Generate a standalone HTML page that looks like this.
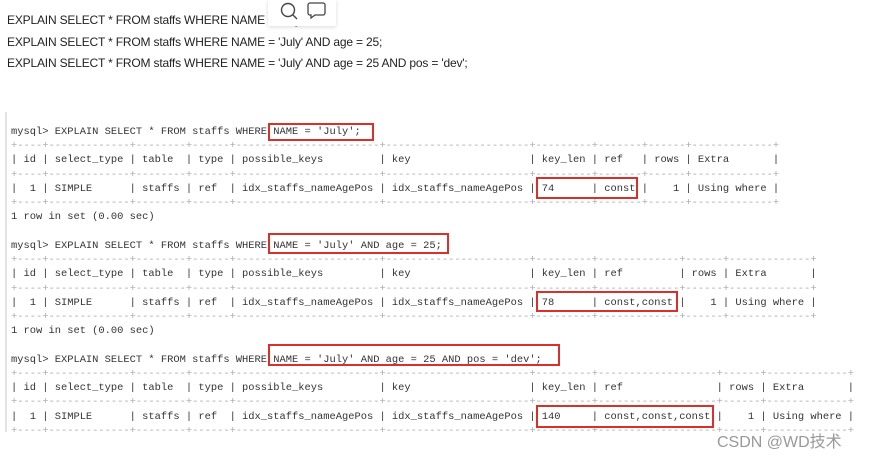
<!DOCTYPE html>
<html><head><meta charset="utf-8"><style>
html,body{margin:0;padding:0;width:872px;height:458px;background:#fff;overflow:hidden;position:relative}
.top{position:absolute;left:7px;font:12px "Liberation Sans",Arial,sans-serif;color:#222;letter-spacing:-0.18px;white-space:pre}
pre{position:absolute;left:11px;top:125px;margin:0;font:10.42px/14.24px "Liberation Mono",monospace;color:#333;letter-spacing:0}
.b{color:#aaa}
.r{position:absolute;border:2px solid #d8302a;box-sizing:border-box}
.bar{position:absolute;left:5px;top:112px;width:2px;height:320px;background:#e3e3e3}
.pop{position:absolute;left:268px;top:0;width:68px;height:26px;background:#fff;box-shadow:0 1px 4px rgba(0,0,0,.15)}
.wm{position:absolute;left:717px;top:428px;font:16px "Liberation Sans","Noto Sans CJK SC",sans-serif;color:#999}
</style></head><body>
<div class="top" style="top:13px">EXPLAIN SELECT * FROM staffs WHERE NAME = 'July';</div>
<div class="top" style="top:35px">EXPLAIN SELECT * FROM staffs WHERE NAME = 'July' AND age = 25;</div>
<div class="top" style="top:56px">EXPLAIN SELECT * FROM staffs WHERE NAME = 'July' AND age = 25 AND pos = 'dev';</div>
<div class="pop">
<svg width="68" height="26"><circle cx="20" cy="10" r="6.5" fill="none" stroke="#444" stroke-width="1.4"/><line x1="25" y1="15" x2="29" y2="19" stroke="#444" stroke-width="1.4"/><path d="M42 3h13a2 2 0 0 1 2 2v8a2 2 0 0 1-2 2h-8l-4 3v-3h-1a2 2 0 0 1-2-2v-8a2 2 0 0 1 2-2z" fill="none" stroke="#444" stroke-width="1.3"/></svg>
</div>
<div class="bar"></div>
<pre>mysql&gt; EXPLAIN SELECT * FROM staffs WHERE NAME = 'July';
<span class="b">+----+-------------+--------+------+-----------------------+-----------------------+---------+-------+------+-------------+</span>
| id | select_type | table  | type | possible_keys         | key                   | key_len | ref   | rows | Extra       |
<span class="b">+----+-------------+--------+------+-----------------------+-----------------------+---------+-------+------+-------------+</span>
|  1 | SIMPLE      | staffs | ref  | idx_staffs_nameAgePos | idx_staffs_nameAgePos | 74      | const |    1 | Using where |
<span class="b">+----+-------------+--------+------+-----------------------+-----------------------+---------+-------+------+-------------+</span>
1 row in set (0.00 sec)

mysql&gt; EXPLAIN SELECT * FROM staffs WHERE NAME = 'July' AND age = 25;
<span class="b">+----+-------------+--------+------+-----------------------+-----------------------+---------+-------------+------+-------------+</span>
| id | select_type | table  | type | possible_keys         | key                   | key_len | ref         | rows | Extra       |
<span class="b">+----+-------------+--------+------+-----------------------+-----------------------+---------+-------------+------+-------------+</span>
|  1 | SIMPLE      | staffs | ref  | idx_staffs_nameAgePos | idx_staffs_nameAgePos | 78      | const,const |    1 | Using where |
<span class="b">+----+-------------+--------+------+-----------------------+-----------------------+---------+-------------+------+-------------+</span>
1 row in set (0.00 sec)

mysql&gt; EXPLAIN SELECT * FROM staffs WHERE NAME = 'July' AND age = 25 AND pos = 'dev';
<span class="b">+----+-------------+--------+------+-----------------------+-----------------------+---------+-------------------+------+-------------+</span>
| id | select_type | table  | type | possible_keys         | key                   | key_len | ref               | rows | Extra       |
<span class="b">+----+-------------+--------+------+-----------------------+-----------------------+---------+-------------------+------+-------------+</span>
|  1 | SIMPLE      | staffs | ref  | idx_staffs_nameAgePos | idx_staffs_nameAgePos | 140     | const,const,const |    1 | Using where |
<span class="b">+----+-------------+--------+------+-----------------------+-----------------------+---------+-------------------+------+-------------+</span></pre>
<div class="r" style="left:268px;top:123px;width:106px;height:18px"></div>
<div class="r" style="left:536px;top:177px;width:102px;height:22px"></div>
<div class="r" style="left:268px;top:233px;width:181px;height:21px"></div>
<div class="r" style="left:536px;top:291px;width:142px;height:21px"></div>
<div class="r" style="left:268px;top:344px;width:292px;height:22px"></div>
<div class="r" style="left:536px;top:405px;width:178px;height:23px"></div>
<div class="wm">CSDN @WD技术</div>
</body></html>
